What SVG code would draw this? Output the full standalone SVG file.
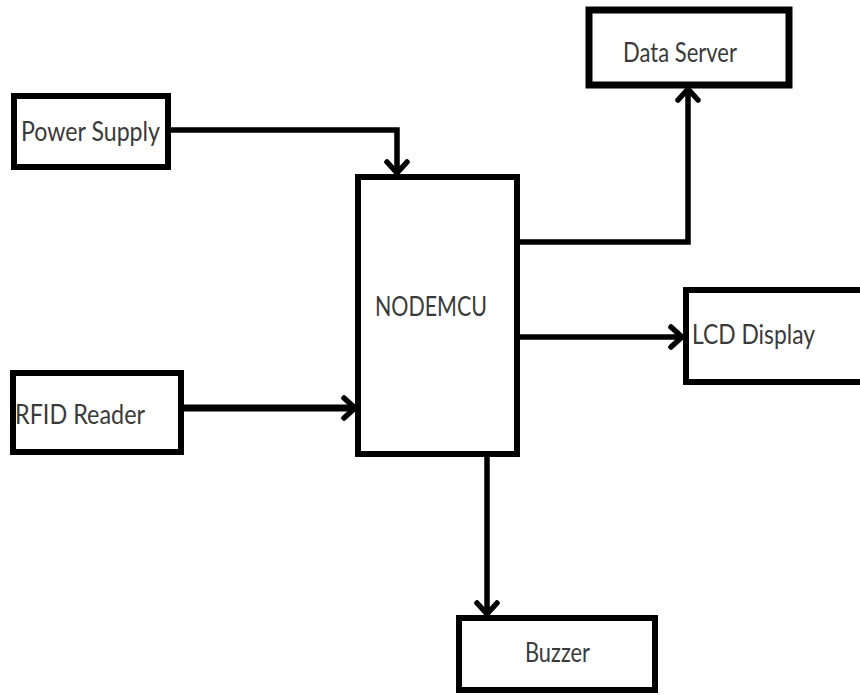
<svg xmlns="http://www.w3.org/2000/svg" width="860" height="695" viewBox="0 0 860 695">
<style>
.box{fill:#fff;stroke:#000;stroke-width:6}
.lbl{font-family:Lato,"Liberation Sans",sans-serif;font-size:27px;fill:#3a3a3a}
.wire{fill:none;stroke:#000;stroke-width:5.5;stroke-linejoin:miter}
</style>
<defs>
<marker id="arr" markerUnits="userSpaceOnUse" markerWidth="30" markerHeight="30" viewBox="-20 -15 25 30" refX="0" refY="0" orient="auto">
<path d="M-11,-10 L0,0 L-11,10" fill="none" stroke="#000" stroke-width="5.5" stroke-linecap="round" stroke-linejoin="round"/>
</marker>
</defs>
<rect width="860" height="695" fill="#fff"/>
<g id="connectors">
<path class="wire" d="M168,130 H397 V173" marker-end="url(#arr)"/>
<path class="wire" d="M517,242 H688 V89" marker-end="url(#arr)"/>
<path class="wire" d="M517,337 H682" marker-end="url(#arr)"/>
<path class="wire" d="M181,408 H355" style="stroke-width:7" marker-end="url(#arr)"/>
<path class="wire" d="M487,454 V614" marker-end="url(#arr)"/>
</g>
<g id="power-supply">
<rect class="box" x="14" y="96" width="154" height="71"/>
<text class="lbl" x="21" y="141" textLength="139" lengthAdjust="spacingAndGlyphs">Power Supply</text>
</g>
<g id="rfid-reader">
<rect class="box" x="13" y="373" width="168" height="79"/>
<text class="lbl" x="15" y="424" textLength="130" lengthAdjust="spacingAndGlyphs">RFID Reader</text>
</g>
<g id="nodemcu">
<rect class="box" x="358" y="177" width="159" height="277"/>
<text class="lbl" x="375" y="316" textLength="112" lengthAdjust="spacingAndGlyphs">NODEMCU</text>
</g>
<g id="data-server">
<rect class="box" x="589" y="10" width="200" height="75" style="stroke-width:7"/>
<text class="lbl" x="623" y="62" textLength="114" lengthAdjust="spacingAndGlyphs">Data Server</text>
</g>
<g id="lcd-display">
<rect class="box" x="686" y="290" width="200" height="92"/>
<text class="lbl" x="692" y="344" textLength="123" lengthAdjust="spacingAndGlyphs">LCD Display</text>
</g>
<g id="buzzer">
<rect class="box" x="459" y="618" width="196" height="72"/>
<text class="lbl" x="525" y="662" textLength="65" lengthAdjust="spacingAndGlyphs">Buzzer</text>
</g>
</svg>
